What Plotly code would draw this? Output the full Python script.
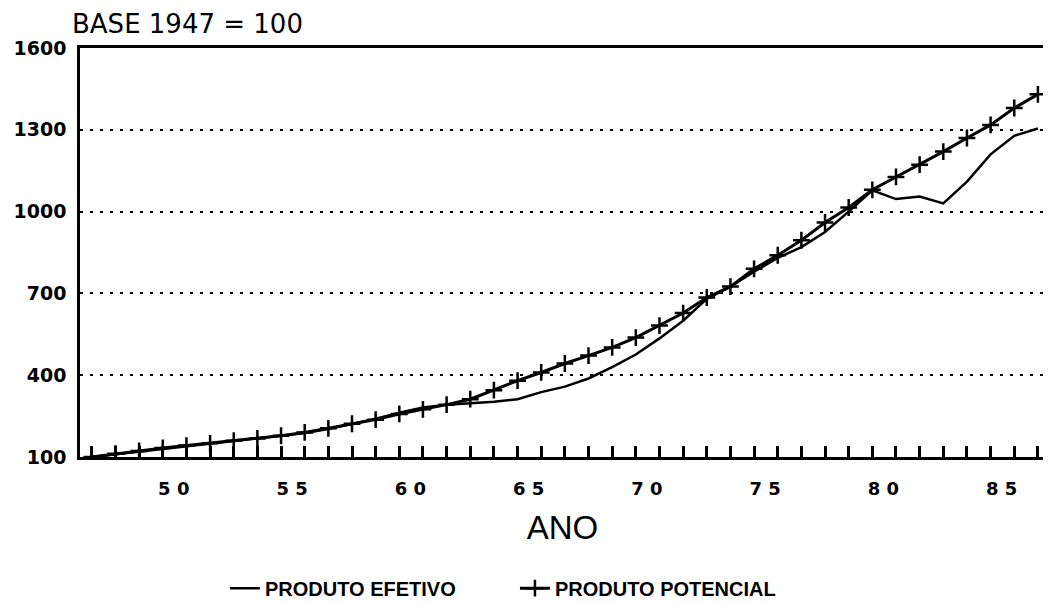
import plotly.graph_objects as go

years = list(range(1947, 1988))

produto_efetivo = [100, 110, 120, 130, 140, 150, 158, 170, 180, 188,
                   203, 222, 240, 262, 282, 292, 297, 303, 312, 338,
                   358, 388, 430, 476, 535, 600, 680, 725, 780, 830,
                   870, 925, 1000, 1078, 1046, 1055, 1030, 1110, 1210, 1278,
                   1305]

produto_potencial = [100, 112, 122, 133, 142, 150, 160, 168, 178, 190,
                     205, 222, 237, 258, 275, 292, 312, 345, 380, 410,
                     443, 472, 502, 538, 582, 628, 685, 725, 790, 840,
                     895, 960, 1015, 1080, 1127, 1172, 1220, 1270, 1318, 1380,
                     1430]

x_label_years = [1950, 1955, 1960, 1965, 1970, 1975, 1980, 1985]
x_labels = ["5 0", "5 5", "6 0", "6 5", "7 0", "7 5", "8 0", "8 5"]
y_ticks = [100, 400, 700, 1000, 1300, 1600]
y_labels = ["100", "400", "700", "1000", "1300", "1600"]

fig = go.Figure()

fig.add_trace(go.Scatter(
    x=years, y=produto_efetivo, mode="lines", name="PRODUTO EFETIVO",
    line=dict(color="black", width=2.5),
))
fig.add_trace(go.Scatter(
    x=years, y=produto_potencial, mode="lines+markers", name="PRODUTO POTENCIAL",
    line=dict(color="black", width=3),
    marker=dict(symbol="cross-thin", size=12, color="black",
                line=dict(color="black", width=2.5)),
))

tickvals_x = years
ticktext_x = [x_labels[x_label_years.index(y)] if y in x_label_years else "" for y in years]

# the page body adds an 8px margin, so the figure is sized to fit the window
fig.update_layout(
    width=1043, height=595,
    margin=dict(l=72, r=6, t=40, b=146, autoexpand=False),
    paper_bgcolor="white", plot_bgcolor="white",
    showlegend=True,
    legend=dict(orientation="h", xref="container", yref="container",
                x=0.208, xanchor="left", y=0.025, yanchor="middle",
                entrywidth=245,
                font=dict(family="Liberation Sans", size=20, color="black", weight="bold"),
                bgcolor="rgba(0,0,0,0)"),
    xaxis=dict(
        range=[1946.5, 1987.3],
        tickvals=tickvals_x, ticktext=ticktext_x,
        ticks="inside", ticklen=11, tickwidth=2.5, tickcolor="black",
        minor=dict(ticks="inside", dtick=1, tick0=1947, ticklen=11, tickwidth=2.5,
                   tickcolor="black", showgrid=False),
        ticklabelshift=11, ticklabelstandoff=14,
        tickfont=dict(family="DejaVu Sans", size=18, color="black", weight="bold"),
        showgrid=False, zeroline=False,
        showline=True, linecolor="black", linewidth=2.5, mirror=True,
        title=dict(text="ANO", font=dict(family="Liberation Sans", size=33, color="black"),
                   standoff=18),
    ),
    yaxis=dict(
        range=[100, 1600],
        tickvals=y_ticks, ticktext=y_labels,
        ticks="", ticklabelstandoff=7,
        tickfont=dict(family="DejaVu Sans", size=19, color="black", weight="bold"),
        showgrid=True, gridcolor="black", gridwidth=2, griddash="3px,7px",
        zeroline=False,
        showline=True, linecolor="black", linewidth=2.5, mirror=True,
    ),
    annotations=[dict(
        text="BASE 1947 = 100", xref="paper", yref="paper",
        x=-0.0104, y=1.0575, xanchor="left", yanchor="middle",
        showarrow=False,
        font=dict(family="DejaVu Sans", size=26, color="black"),
    )],
)

fig.write_html("out.html")
